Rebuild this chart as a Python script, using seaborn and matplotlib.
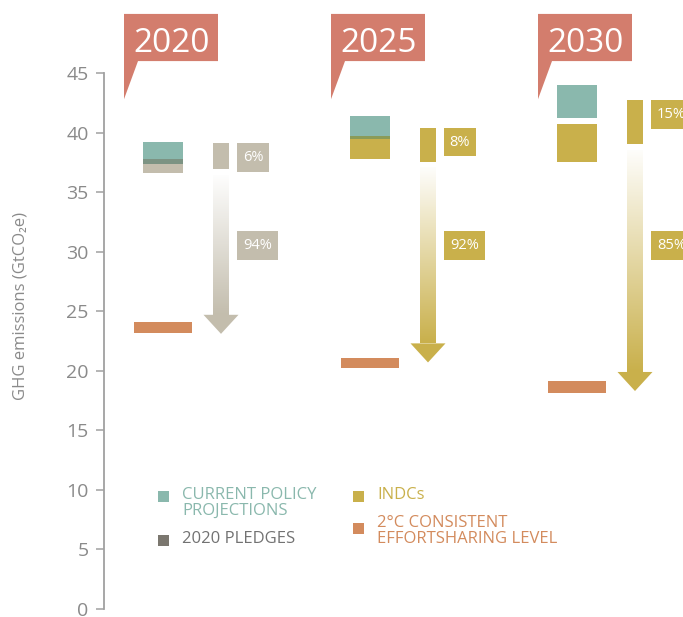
import numpy as np
import seaborn as sns
import matplotlib.pyplot as plt
from matplotlib.patches import Polygon, Rectangle

# data (GtCO2e)
years = ['2020', '2025', '2030']
policy_low = [37.4, 39.5, 41.2]
policy_high = [39.2, 41.4, 44.0]
pledge_low = [36.6, np.nan, np.nan]
pledge_high = [37.8, np.nan, np.nan]
indc_low = [np.nan, 37.8, 37.5]
indc_high = [np.nan, 39.7, 40.7]
two_deg_low = [23.2, 20.2, 18.1]
two_deg_high = [24.1, 21.1, 19.1]
arrow_top = [39.1, 40.4, 42.7]
arrow_solid_end = [36.9, 37.5, 39.0]
arrow_tip = [23.1, 20.7, 18.3]
share_top = ['6%', '8%', '15%']
share_bottom = ['94%', '92%', '85%']
yticks = [0, 5, 10, 15, 20, 25, 30, 35, 40, 45]

TEAL = '#8ab8ad'
BEIGE = '#c3bdad'
YELLOW = '#c9b04b'
ORANGE = '#d38b5d'
SALMON = '#d37d6d'
PLEDGE_DARK = '#7b776f'
overlap_colors = ['#7c9383', '#8a9b58', '#8a9b58']
arrow_colors = [BEIGE, YELLOW, YELLOW]

sns.set_theme(style='white')
plt.rcParams['font.family'] = ['Open Sans', 'DejaVu Sans']

fig = plt.figure(figsize=(6.83, 6.17), dpi=100)
ax = fig.add_axes([104 / 683, 8 / 617, 579 / 683, 536 / 617])
x = np.arange(len(years))
px = 1 / 207  # one pixel in x data units


def float_bars(xs, low, high, width, color):
    low = np.asarray(low, float)
    high = np.asarray(high, float)
    ok = ~np.isnan(low)
    ax.bar(np.asarray(xs)[ok], (high - low)[ok], bottom=low[ok], width=width,
           color=color, linewidth=0, zorder=2)


# policy / pledge / INDC ranges
float_bars(x, policy_low, policy_high, 40 * px, TEAL)
float_bars(x, pledge_low, pledge_high, 40 * px, BEIGE)
float_bars(x, indc_low, indc_high, 40 * px, YELLOW)
for i in range(len(years)):
    other_low = pledge_low[i] if not np.isnan(pledge_low[i]) else indc_low[i]
    other_high = pledge_high[i] if not np.isnan(pledge_high[i]) else indc_high[i]
    lo, hi = max(policy_low[i], other_low), min(policy_high[i], other_high)
    if hi > lo:
        ax.bar(x[i], hi - lo, bottom=lo, width=40 * px, color=overlap_colors[i],
               linewidth=0, zorder=3)

# 2 degree levels
float_bars(x, two_deg_low, two_deg_high, 58 * px, ORANGE)

# gap arrows
for i in range(len(years)):
    c = np.array(plt.matplotlib.colors.to_rgb(arrow_colors[i]))
    ax_x = x[i] + 58 * px
    ax.bar(ax_x, arrow_top[i] - arrow_solid_end[i], bottom=arrow_solid_end[i],
           width=16 * px, color=c, linewidth=0, zorder=2)
    head_top = arrow_tip[i] + 1.6
    t = np.linspace(0.02, 1, 256)[:, None, None]
    img = (1 - t) * np.ones(3) + t * c
    ax.imshow(img, extent=(ax_x - 8 * px, ax_x + 8 * px, head_top, arrow_solid_end[i] - 0.5),
              origin='upper', aspect='auto', interpolation='bilinear', zorder=2)
    ax.add_patch(Polygon([(ax_x - 17.5 * px, head_top), (ax_x + 17.5 * px, head_top),
                          (ax_x, arrow_tip[i])], closed=True, color=c, linewidth=0, zorder=2))
    # share labels
    for lab, top in [(share_top[i], arrow_top[i]), (share_bottom[i], 31.7)]:
        w = (14 + 9 * len(lab)) * px
        ax.bar(x[i] + 74 * px, 2.4, bottom=top - 2.4, width=w, align='edge',
               color=c, linewidth=0, zorder=2)
        ax.text(x[i] + 74 * px + w / 2, top - 1.2, lab, ha='center', va='center',
                color='white', fontsize=10.5, zorder=4)

# year callouts
for i, yr in enumerate(years):
    L, R = x[i] - 39 * px, x[i] + 55 * px
    ax.add_patch(Polygon([(L, 49.96), (R, 49.96), (R, 46.0), (L + 14 * px, 46.0), (L, 42.8)],
                         closed=True, color=SALMON, linewidth=0, clip_on=False, zorder=5))
    ax.text(x[i] + 9 * px, 46.75, yr, ha='center', va='baseline', color='white',
            fontsize=24, clip_on=False, zorder=6)

ax.set_xlim(-59 * px, 520 * px)
ax.set_ylim(0, 45)
ax.set_xticks([])
ax.set_yticks(yticks)
sns.despine(ax=ax, bottom=True)
ax.spines['left'].set_color('#a0a0a0')
ax.spines['left'].set_linewidth(1.3)
ax.tick_params(axis='y', left=True, length=6, width=1.1, color='#a0a0a0',
               labelsize=14, labelcolor='#8a8a8a', pad=5)
ax.set_ylabel('GHG emissions (GtCO₂e)', fontsize=12, color='#8a8a8a')
ax.yaxis.set_label_coords(-0.131, 0.565)


# legend
def fx(p):
    return p / 683


def fy(p):
    return 1 - p / 617


legend_items = [
    (158, 491, TEAL, 182, 'CURRENT POLICY\nPROJECTIONS', TEAL),
    (158, 535, PLEDGE_DARK, 182, '2020 PLEDGES', '#727272'),
    (353, 491, YELLOW, 377, 'INDCs', YELLOW),
    (353, 523, ORANGE, 377, '2°C CONSISTENT\nEFFORTSHARING LEVEL', ORANGE),
]
for sx, sy, sc, tx, label, tc in legend_items:
    fig.add_artist(Rectangle((fx(sx), fy(sy + 11)), 11 / 683, 11 / 617,
                             transform=fig.transFigure, color=sc, linewidth=0))
    ty = sy - 4 if sy != 523 else 515
    fig.text(fx(tx), fy(ty), label, ha='left', va='top', fontsize=12,
             color=tc, linespacing=0.98)

fig.savefig('out.png', dpi=100)
